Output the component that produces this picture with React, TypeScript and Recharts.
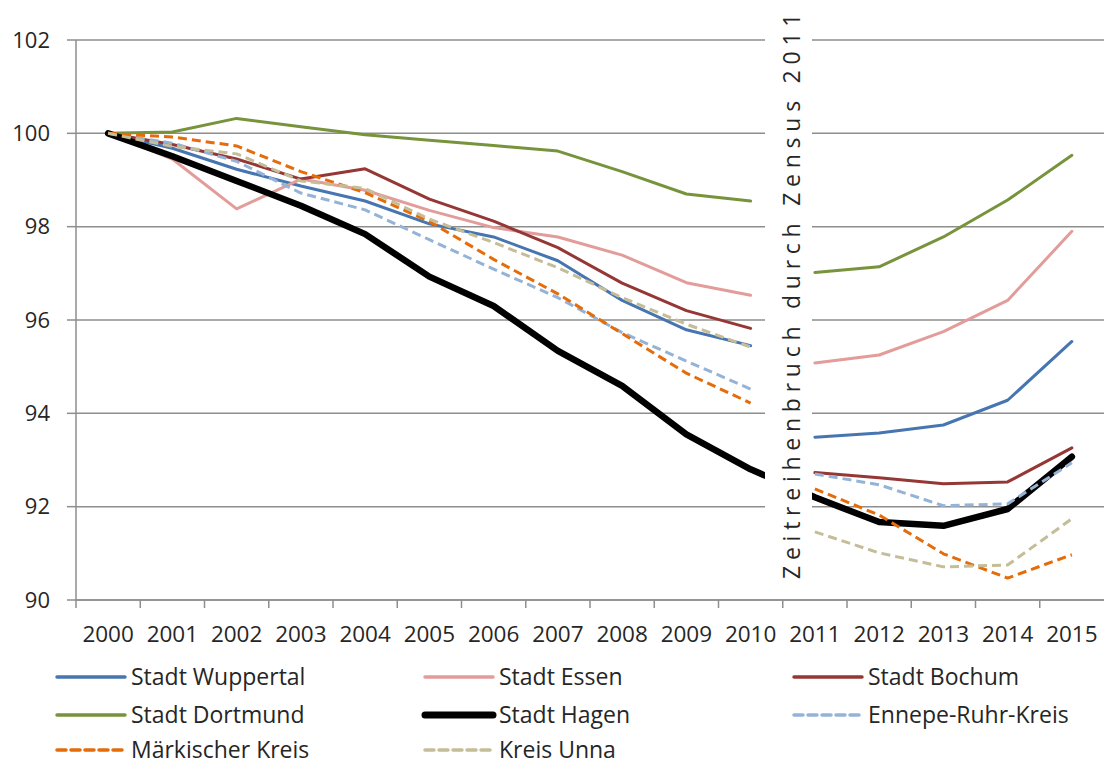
import { LineChart, Line, XAxis, YAxis, CartesianGrid } from 'recharts';

const yearsA = [2000, 2001, 2002, 2003, 2004, 2005, 2006, 2007, 2008, 2009, 2010];
const yearsB = [2011, 2012, 2013, 2014, 2015];
const allYears = [...yearsA, ...yearsB];
const yTicks = [90, 92, 94, 96, 98, 100, 102];

// index values (2000 = 100), split at the census break
const wuppertalA = [100, 99.68, 99.23, 98.87, 98.55, 98.06, 97.78, 97.27, 96.42, 95.79, 95.45];
const wuppertalB = [93.49, 93.58, 93.75, 94.28, 95.54];
const essenA = [100, 99.45, 98.38, 99.02, 98.78, 98.35, 97.98, 97.78, 97.39, 96.8, 96.53];
const essenB = [95.08, 95.25, 95.75, 96.42, 97.9];
const bochumA = [100, 99.76, 99.45, 99.02, 99.24, 98.59, 98.12, 97.55, 96.79, 96.2, 95.82];
const bochumB = [92.73, 92.62, 92.49, 92.53, 93.26];
const dortmundA = [100, 100.03, 100.32, 100.14, 99.97, 99.85, 99.74, 99.62, 99.18, 98.7, 98.55];
const dortmundB = [97.02, 97.14, 97.78, 98.57, 99.53];
const hagen = [100, 99.51, 98.98, 98.45, 97.84, 96.93, 96.3, 95.34, 94.59, 93.55, 92.8, 92.2, 91.67, 91.59, 91.95, 93.07];
const ennepeA = [100, 99.79, 99.4, 98.72, 98.36, 97.72, 97.09, 96.48, 95.73, 95.12, 94.52];
const ennepeB = [92.7, 92.47, 92.02, 92.06, 92.94];
const maerkA = [100, 99.92, 99.73, 99.18, 98.73, 98.11, 97.3, 96.56, 95.71, 94.86, 94.22];
const maerkB = [92.38, 91.82, 90.99, 90.47, 90.97];
const unnaA = [100, 99.72, 99.56, 98.98, 98.82, 98.16, 97.66, 97.12, 96.48, 95.91, 95.42];
const unnaB = [91.46, 91.01, 90.71, 90.75, 91.74];

const FONT = '"Open Sans", sans-serif';
const TEXT = '#262626';
const GRID = '#8e8e8e';
const CHART_W = 1104;
const Y_AXIS_W = 76;
const BAND = (CHART_W - Y_AXIS_W) / 16;

const pts = (years: number[], vals: number[]) => years.map((year, i) => ({ year, v: vals[i] }));

interface Series {
  name: string;
  color: string;
  width: number;
  dash?: string;
  parts: { year: number; v: number }[][];
}

const series: Series[] = [
  { name: 'Stadt Wuppertal', color: '#4675B0', width: 3, parts: [pts(yearsA, wuppertalA), pts(yearsB, wuppertalB)] },
  { name: 'Stadt Essen', color: '#E29C9A', width: 3, parts: [pts(yearsA, essenA), pts(yearsB, essenB)] },
  { name: 'Stadt Bochum', color: '#953735', width: 3, parts: [pts(yearsA, bochumA), pts(yearsB, bochumB)] },
  { name: 'Stadt Dortmund', color: '#77933C', width: 3, parts: [pts(yearsA, dortmundA), pts(yearsB, dortmundB)] },
  { name: 'Stadt Hagen', color: '#000000', width: 6.5, parts: [pts(allYears, hagen)] },
  { name: 'Ennepe-Ruhr-Kreis', color: '#95B3D7', width: 3, dash: '9 5', parts: [pts(yearsA, ennepeA), pts(yearsB, ennepeB)] },
  { name: 'Märkischer Kreis', color: '#E46C0A', width: 3, dash: '9 5', parts: [pts(yearsA, maerkA), pts(yearsB, maerkB)] },
  { name: 'Kreis Unna', color: '#C4BD97', width: 3, dash: '9 5', parts: [pts(yearsA, unnaA), pts(yearsB, unnaB)] },
];

function XTick({ x, y, payload }: any) {
  return (
    <g>
      <line x1={x - BAND / 2} x2={x - BAND / 2} y1={y - 26} y2={y - 18} stroke={GRID} strokeWidth={1.5} />
      <text x={x} y={y} dy="0.71em" textAnchor="middle" fill={TEXT} fontSize={22.5} fontFamily={FONT}>
        {payload.value}
      </text>
    </g>
  );
}

// legend drawn as one svg strip under the plot
function LegendBox() {
  const cols = [55, 423, 792];
  const rows = [27, 65, 100];
  return (
    <svg width={CHART_W} height={114} style={{ position: 'absolute', left: 0, top: 650 }}>
      {series.map((s, i) => {
        const x = cols[i % 3];
        const y = rows[Math.floor(i / 3)];
        return (
          <g key={s.name}>
            <line
              x1={x + 2}
              x2={x + 70}
              y1={y}
              y2={y}
              stroke={s.color}
              strokeWidth={s.width === 3 ? 3.5 : 7}
              strokeDasharray={s.dash ? '9 5' : undefined}
              strokeLinecap="round"
            />
            <text x={x + 76} y={y} dy="0.35em" fill={TEXT} fontSize={23} fontFamily={FONT}>
              {s.name}
            </text>
          </g>
        );
      })}
    </svg>
  );
}

export default function App() {
  return (
    <div style={{ position: 'absolute', left: 0, top: 0, width: CHART_W, height: 764, background: '#fff' }}>
      <LineChart width={CHART_W} height={650} margin={{ top: 40, right: 0, bottom: 0, left: 0 }}>
        <CartesianGrid vertical={false} stroke={GRID} strokeWidth={1.5} />
        <XAxis
          type="number"
          dataKey="year"
          domain={[1999.5, 2015.5]}
          ticks={allYears}
          interval={0}
          height={50}
          tickLine={false}
          tickSize={8}
          tickMargin={18}
          tick={<XTick />}
          axisLine={{ stroke: GRID, strokeWidth: 1.5 }}
          allowDataOverflow
        />
        <YAxis
          domain={[90, 102]}
          ticks={yTicks}
          width={Y_AXIS_W}
          tickSize={9}
          tickMargin={17}
          tickLine={{ stroke: GRID, strokeWidth: 1.5 }}
          axisLine={{ stroke: GRID, strokeWidth: 1.5 }}
          tick={{ fill: TEXT, fontSize: 22, fontFamily: FONT }}
        />
        {series.flatMap((s) =>
          s.parts.map((part, j) => (
            <Line
              key={s.name + j}
              data={part}
              dataKey="v"
              name={s.name}
              type="linear"
              stroke={s.color}
              strokeWidth={s.width}
              strokeDasharray={s.dash}
              strokeLinecap={s.dash ? 'butt' : 'round'}
              strokeLinejoin="round"
              dot={false}
              activeDot={false}
              isAnimationActive={false}
            />
          ))
        )}
      </LineChart>
      <div style={{ position: 'absolute', left: 765, top: 2, width: 47, height: 588, background: '#fff' }}>
        <svg width={47} height={588}>
          <text
            transform="rotate(-90)"
            x={-577}
            y={35}
            fill={TEXT}
            fontSize={23}
            fontFamily={FONT}
            letterSpacing={5.75}
          >
            Zeitreihenbruch durch Zensus 2011
          </text>
        </svg>
      </div>
      <LegendBox />
    </div>
  );
}
